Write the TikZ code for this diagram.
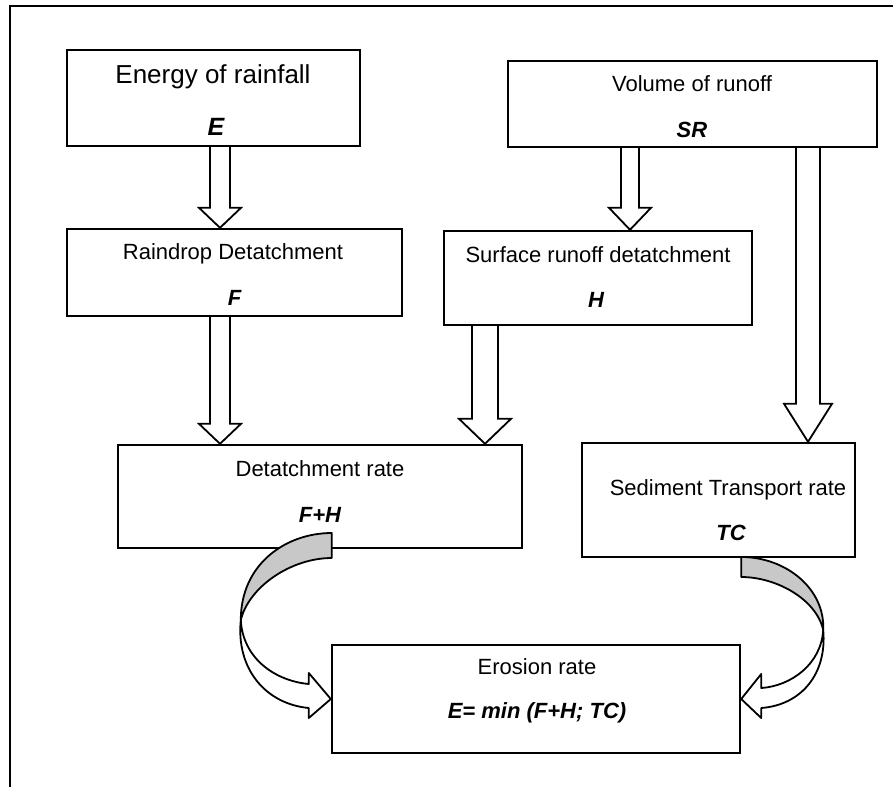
\documentclass[tikz,border=0pt]{standalone}
\usepackage{fontspec}
\setmainfont{Liberation Sans}
\usetikzlibrary{calc}
\definecolor{bandgray}{RGB}{200,200,200}
% hollow down arrow: x, from node, to node, shaft half width, head half width, head length
\newcommand{\blockarrow}[6]{%
  \draw[blockarr] let \p1=(#2.south), \p2=(#3.north) in
    (#1pt-#4pt,\y1) -- (#1pt-#4pt,\y2+#6pt) -- (#1pt-#5pt,\y2+#6pt) -- (#1pt,\y2)
    -- (#1pt+#5pt,\y2+#6pt) -- (#1pt+#4pt,\y2+#6pt) -- (#1pt+#4pt,\y1);}

\begin{document}
\begin{tikzpicture}[x=1pt,y=-1pt,
    box/.style={draw,line width=2.4pt,inner sep=0pt},
    title/.style={anchor=base,font=\fontsize{22}{26}\selectfont},
    sym/.style={anchor=base,font=\fontsize{22}{26}\selectfont\bfseries\itshape},
    blockarr/.style={fill=white,line width=1.8pt,line join=miter},
    band/.style={line width=1.8pt,line join=round}]
    \useasboundingbox (0,0) rectangle (893,787);
    \draw[line width=2.6pt] (10,787) -- (10,6) -- (893,6);

    % boxes
    \node[box,minimum width=293pt,minimum height=96pt] (energy) at (213.5,98) {};
    \node[box,minimum width=369pt,minimum height=86pt] (volume) at (692.5,104) {};
    \node[box,minimum width=335pt,minimum height=87pt] (raindrop) at (234.5,272.5) {};
    \node[box,minimum width=308pt,minimum height=94pt] (surface) at (598,278) {};
    \node[box,minimum width=404pt,minimum height=103pt] (detrate) at (320,496.5) {};
    \node[box,minimum width=273pt,minimum height=114pt] (sediment) at (718.5,500) {};
    \node[box,minimum width=408pt,minimum height=108pt] (erosion) at (536,699) {};

    % texts
    \node[title,font=\fontsize{26}{30}\selectfont] (energy-t) at (213,83) {Energy of rainfall};
    \node[sym,font=\fontsize{25}{30}\selectfont\bfseries\itshape] (energy-s) at (216,135) {E};
    \node[title] (volume-t) at (692,91) {Volume of runoff};
    \node[sym] (volume-s) at (692,137) {SR};
    \node[title] (raindrop-t) at (233,259) {Raindrop Detatchment};
    \node[sym] (raindrop-s) at (234.5,305) {F};
    \node[title] (surface-t) at (598,262) {Surface runoff detatchment};
    \node[sym] (surface-s) at (596,307) {H};
    \node[title] (detrate-t) at (320,476) {Detatchment rate};
    \node[sym] (detrate-s) at (320,522) {F+H};
    \node[title] (sediment-t) at (728,495) {Sediment Transport rate};
    \node[sym] (sediment-s) at (731,540) {TC};
    \node[title] (erosion-t) at (537,674) {Erosion rate};
    \node[sym] (erosion-s) at (537,718) {E= min (F+H; TC)};

    % straight arrows
    \blockarrow{220}{energy}{raindrop}{10}{21}{20}
    \blockarrow{630}{volume}{surface}{9}{21}{22}
    \blockarrow{808}{volume}{sediment}{12}{24}{38}
    \blockarrow{220}{raindrop}{detrate}{10}{21}{20}
    \blockarrow{485}{surface}{detrate}{13}{26}{25}

    % curved arrows
    \begin{scope}[shift={(erosion.west)}]
        \filldraw[band,fill=bandgray] (1,-166) -- (1,-141) .. controls (-40,-141) and (-82,-112) .. (-90,-79)
            .. controls (-90,-135) and (-45,-166) .. (1,-166) -- cycle;
        \filldraw[band,fill=white] (-90,-79) .. controls (-88,-40) and (-55,-18) .. (-22,-15) -- (-22,-26) -- (0,0)
            -- (-22,19) -- (-22,9) .. controls (-65,5) and (-95,-30) .. (-90,-79) -- cycle;
    \end{scope}
    \begin{scope}[shift={(erosion.east)}]
        \filldraw[band,fill=bandgray] (0,-142) -- (0,-122) .. controls (35,-122) and (75,-100) .. (82,-69)
            .. controls (84,-110) and (45,-142) .. (0,-142) -- cycle;
        \filldraw[band,fill=white] (82,-69) .. controls (80,-35) and (50,-13) .. (20,-11) -- (20,-25) -- (0,0)
            -- (20,19) -- (20,9) .. controls (60,6) and (86,-25) .. (82,-69) -- cycle;
    \end{scope}
\end{tikzpicture}
\end{document}
